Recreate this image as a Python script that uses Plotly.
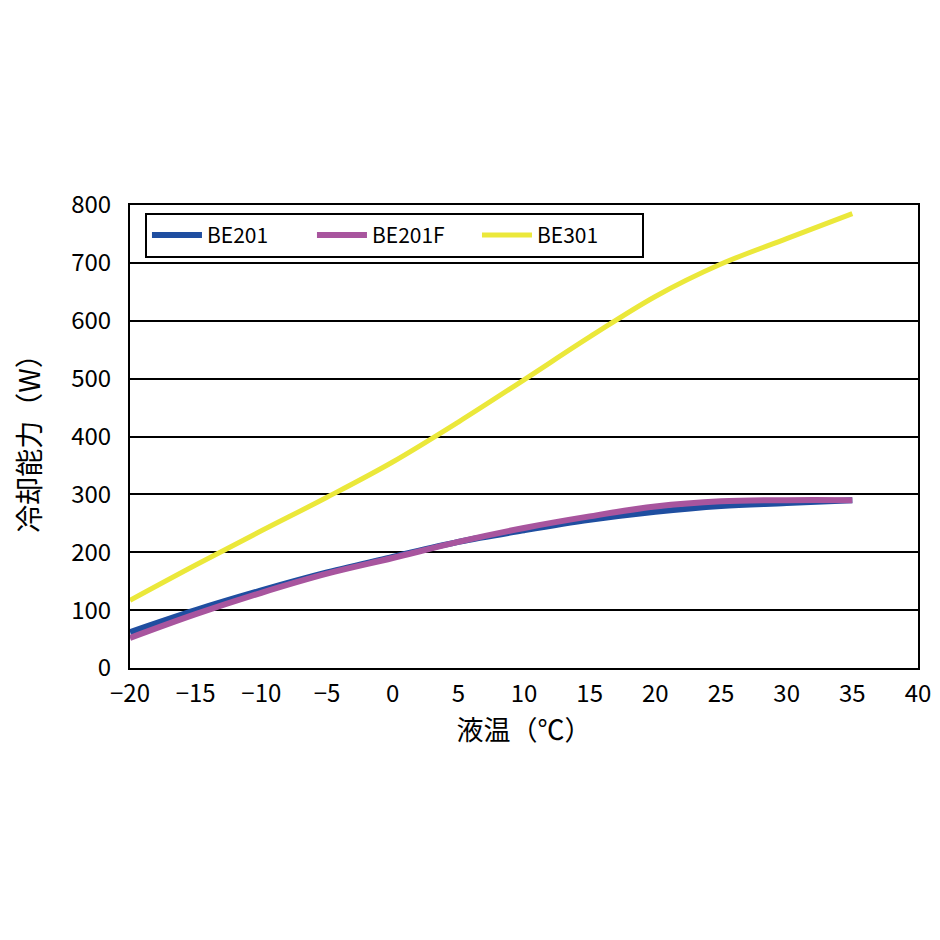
import plotly.graph_objects as go

temps = [-20, -15, -10, -5, 0, 5, 10, 15, 20, 25, 30, 35]
be201 = [62, 100, 134, 165, 192, 218, 238, 256, 270, 280, 285, 290]
be201f = [52, 93, 130, 163, 190, 218, 242, 262, 279, 288, 290, 290]
be301 = [117, 178, 237, 295, 356, 425, 498, 572, 642, 698, 742, 785]

x_ticks = [-20, -15, -10, -5, 0, 5, 10, 15, 20, 25, 30, 35, 40]
x_labels = ["\u221220", "\u221215", "\u221210", "\u22125", "0", "5", "10", "15", "20", "25", "30", "35", "40"]
y_ticks = [0, 100, 200, 300, 400, 500, 600, 700, 800]

FONT = "Noto Sans CJK JP"

fig = go.Figure()
fig.add_trace(go.Scatter(x=temps, y=be201, name="BE201", mode="lines",
                         line=dict(color="#1f4ea0", width=6, shape="spline")))
fig.add_trace(go.Scatter(x=temps, y=be201f, name="BE201F", mode="lines",
                         line=dict(color="#a8559e", width=6, shape="spline")))
fig.add_trace(go.Scatter(x=temps, y=be301, name="BE301", mode="lines",
                         line=dict(color="#ebe83a", width=5, shape="spline")))

fig.update_layout(
    width=940, height=940,
    margin=dict(l=122, r=30, t=197, b=280, autoexpand=False),
    paper_bgcolor="white", plot_bgcolor="white",
    font=dict(family=FONT, size=24, color="black"),
    showlegend=True,
    legend=dict(orientation="h", x=0.019, y=0.983, xanchor="left", yanchor="top",
                bordercolor="black", borderwidth=2, bgcolor="white",
                font=dict(size=21), itemwidth=50, entrywidth=100,
                entrywidthmode="pixels", tracegroupgap=0),
    xaxis=dict(range=[-20, 40], tickmode="array", tickvals=x_ticks, ticktext=x_labels,
               showgrid=False, zeroline=False, showline=True, linecolor="black",
               linewidth=2, mirror=True, ticks="", tickfont=dict(size=24),
               ticklabelstandoff=3,
               title=dict(text="液温（℃）", font=dict(size=27), standoff=6)),
    yaxis=dict(range=[0, 800], tickmode="array", tickvals=y_ticks,
               showgrid=True, gridcolor="black", gridwidth=2, zeroline=False,
               showline=True, linecolor="black", linewidth=2, mirror=True, ticks="",
               tickfont=dict(size=24), ticklabelstandoff=12,
               title=dict(text="冷却能力（W）", font=dict(size=28), standoff=26)),
)

fig.write_html("out.html")
